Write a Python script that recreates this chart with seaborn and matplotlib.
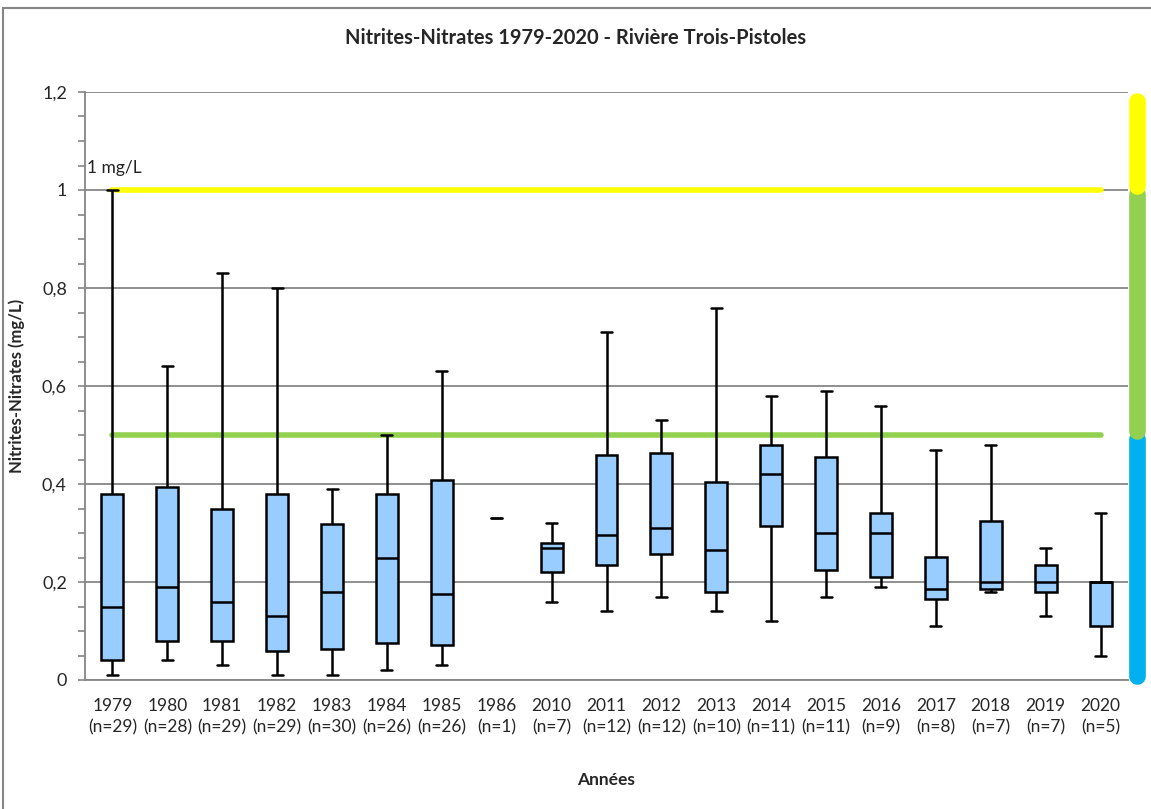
import pandas as pd
import matplotlib.pyplot as plt
import seaborn as sns
from matplotlib.patches import Rectangle
from matplotlib.ticker import MultipleLocator, FixedLocator, FuncFormatter

# summary stats (mg/L)
years = ['1979', '1980', '1981', '1982', '1983', '1984', '1985', '1986', '2010', '2011',
         '2012', '2013', '2014', '2015', '2016', '2017', '2018', '2019', '2020']
n_counts = [29, 28, 29, 29, 30, 26, 26, 1, 7, 12, 12, 10, 11, 11, 9, 8, 7, 7, 5]
mins = [0.01, 0.04, 0.03, 0.01, 0.01, 0.02, 0.03, 0.33, 0.16, 0.14,
        0.17, 0.14, 0.12, 0.17, 0.19, 0.11, 0.18, 0.13, 0.05]
q1s = [0.04, 0.08, 0.08, 0.06, 0.063, 0.075, 0.072, 0.33, 0.22, 0.235,
       0.258, 0.18, 0.315, 0.225, 0.21, 0.165, 0.185, 0.18, 0.11]
medians = [0.15, 0.19, 0.16, 0.13, 0.18, 0.25, 0.175, 0.33, 0.27, 0.295,
           0.31, 0.265, 0.42, 0.30, 0.30, 0.185, 0.20, 0.20, 0.20]
q3s = [0.38, 0.393, 0.35, 0.38, 0.318, 0.38, 0.408, 0.33, 0.28, 0.46,
       0.463, 0.405, 0.48, 0.455, 0.34, 0.252, 0.325, 0.235, 0.20]
maxs = [1.0, 0.64, 0.83, 0.80, 0.39, 0.50, 0.63, 0.33, 0.32, 0.71,
        0.53, 0.76, 0.58, 0.59, 0.56, 0.47, 0.48, 0.27, 0.34]

limit_high = 1.0   # 1 mg/L
limit_mid = 0.5
band_edges = [0.0, 0.5, 1.0, 1.19]
band_colors = ['#00B0F0', '#92D050', '#FFFF00']

# five points per year -> seaborn quartiles land exactly on the summary values
rows = []
for y, a, b, c, d, e in zip(years, mins, q1s, medians, q3s, maxs):
    for v in (a, b, c, d, e):
        rows.append({'year': y, 'value': v})
df = pd.DataFrame(rows)

sns.set_theme(style='white')
plt.rcParams['font.family'] = ['Lato', 'DejaVu Sans']

fig = plt.figure(figsize=(11.51, 8.09), dpi=100)
ax = fig.add_axes([85 / 1151, 1 - 680 / 809, (1128 - 85) / 1151, (680 - 92) / 809])

sns.boxplot(data=df, x='year', y='value', order=years, ax=ax, whis=(0, 100),
            width=0.4, color='#99CCFF', saturation=1, linecolor='black',
            linewidth=1.8, showfliers=False, zorder=3)

# the single 1986 sample shows as a short dash only
i86 = years.index('1986')
for art in ax.patches[i86:i86 + 1]:
    art.set_visible(False)
for ln in ax.lines:
    xd = ln.get_xdata()
    if len(xd) and min(xd) > i86 - 0.5 and max(xd) < i86 + 0.5:
        ln.set_visible(False)
ax.plot([i86 - 0.1, i86 + 0.1], [medians[i86], medians[i86]], color='black', lw=2, zorder=4)

# guide lines
ax.plot([0, len(years) - 1], [limit_high, limit_high], color='#FFFF00', lw=4,
        solid_capstyle='round', zorder=2)
ax.plot([0, len(years) - 1], [limit_mid, limit_mid], color='#92D050', lw=4,
        solid_capstyle='round', zorder=2)
ax.text(-0.47, 1.035, '1 mg/L', fontsize=12.5, color='#222222')

# colour band on the right
bx = len(years) - 0.5 + 0.16
for lo, hi, col in zip(band_edges[:-1], band_edges[1:], band_colors):
    ax.plot([bx, bx], [lo + 0.008, hi - 0.008], color=col, lw=12,
            solid_capstyle='round', clip_on=False, zorder=4)

ax.set_xlim(-0.5, len(years) - 0.5)
ax.set_ylim(0, 1.2)
ax.yaxis.set_major_locator(MultipleLocator(0.2))
ax.yaxis.set_minor_locator(MultipleLocator(0.05))
ax.yaxis.set_major_formatter(FuncFormatter(lambda v, p: ('%g' % round(v, 2)).replace('.', ',')))
ax.grid(axis='y', which='major', color='#868686', lw=1.3, zorder=0)
ax.set_axisbelow(True)

ax.set_xticks(range(len(years)))
ax.set_xticklabels([f'{y}\n(n={n})' for y, n in zip(years, n_counts)], fontsize=12.5,
                   linespacing=1.4)
ax.xaxis.set_minor_locator(FixedLocator([i - 0.5 for i in range(len(years) + 1)]))
ax.tick_params(axis='x', which='major', length=0, pad=13)
ax.tick_params(axis='x', which='minor', length=5, color='#868686', width=1.2, direction='out')
ax.tick_params(axis='y', which='both', length=5, color='#868686', width=1.2,
               direction='out', left=True, labelsize=13)
ax.tick_params(axis='y', which='major', pad=8)

for s in ['top', 'right']:
    ax.spines[s].set_visible(False)
for s in ['left', 'bottom']:
    ax.spines[s].set_color('#868686')
    ax.spines[s].set_linewidth(1.3)

ax.set_xlabel('Années', fontsize=12.5, fontweight='bold', labelpad=26)
ax.set_ylabel('Nitrites-Nitrates (mg/L)', fontsize=12, fontweight='bold', labelpad=12)
fig.text(0.5, 1 - 38 / 809, 'Nitrites-Nitrates 1979-2020 - Rivière Trois-Pistoles',
         ha='center', va='center', fontsize=14.5, fontweight='bold')

# chart-area frame: left and top edges visible
fig.patches.append(Rectangle((3 / 1151, -0.05), 1.1, 1.05 - 8 / 809, transform=fig.transFigure,
                             fill=False, edgecolor='#868686', lw=1.5))

fig.savefig('out.png', dpi=100)
